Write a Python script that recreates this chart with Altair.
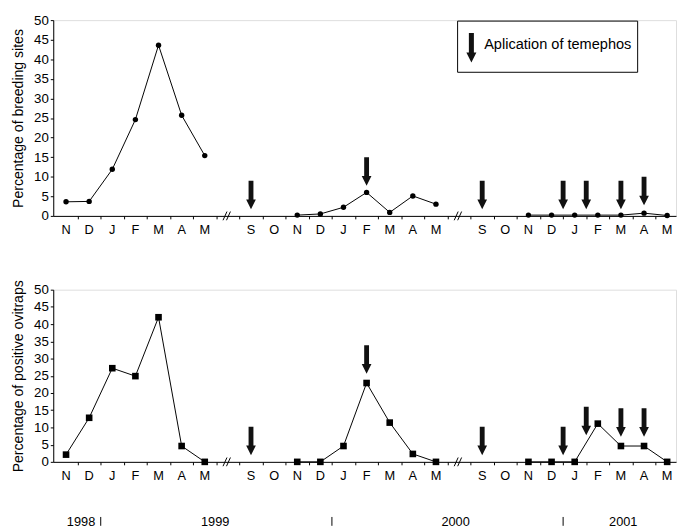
import altair as alt
import pandas as pd

FONT = "Liberation Sans"

# ---------------- data ----------------
month_labels = ["N", "D", "J", "F", "M", "A", "M",
                "S", "O", "N", "D", "J", "F", "M", "A", "M",
                "S", "O", "N", "D", "J", "F", "M", "A", "M"]
month_pos = [0, 1, 2, 3, 4, 5, 6,
             8, 9, 10, 11, 12, 13, 14, 15, 16,
             18, 19, 20, 21, 22, 23, 24, 25, 26]

series_pos = [0, 1, 2, 3, 4, 5, 6,
              10, 11, 12, 13, 14, 15, 16,
              20, 21, 22, 23, 24, 25, 26]
series_seg = [1] * 7 + [2] * 7 + [3] * 7

breeding_sites = [3.6, 3.7, 11.9, 24.6, 43.6, 25.7, 15.4,
                  0.2, 0.5, 2.2, 6.0, 0.9, 5.1, 3.0,
                  0.2, 0.2, 0.2, 0.2, 0.2, 0.7, 0.1]
positive_ovitraps = [2.1, 12.8, 27.2, 24.9, 42.0, 4.6, 0.0,
                     0.0, 0.0, 4.6, 22.9, 11.4, 2.3, 0.0,
                     0.0, 0.0, 0.0, 11.1, 4.6, 4.6, 0.0]

arrow_pos = [8, 13, 18, 21.5, 22.5, 24, 25]
breeding_arrow_tip = [1.7, 7.7, 1.7, 1.7, 1.7, 1.7, 2.7]
ovitrap_arrow_tip = [1.9, 25.6, 1.9, 1.9, 7.7, 7.3, 7.3]

break_pos = [7, 17]
year_labels = ["1998", "1999", "2000", "2001"]
year_pos = [0.65, 6.45, 16.85, 24.1]
year_sep_pos = [1.5, 11.5, 21.5]

legend_text = "Aplication of temephos"

# ---------------- layout ----------------
W = 633
H_TOP, H_BOT = 199, 175
ARROW = "M-0.17,-2L0.17,-2L0.17,-0.68L0.34,-0.68L0,0L-0.34,-0.68L-0.17,-0.68Z"

xscale = alt.Scale(domain=[-0.553, 26.383], nice=False, zero=False)
yscale = alt.Scale(domain=[0, 50], nice=False, zero=False)

xaxis = alt.Axis(values=[i + 0.5 for i in range(26)], labels=False, title=None,
                 tickSize=3, ticks=True, domainColor="black", tickColor="black",
                 grid=False)


def yaxis(title, h):
    return alt.Axis(values=list(range(0, 55, 5)), title=title, tickSize=3,
                    domainColor="black", tickColor="black", grid=False,
                    labelFontSize=13.5, labelColor="black", labelPadding=2,
                    titleFontSize=14.3, titleFontWeight="normal", titleColor="black",
                    titleX=-35, titleY=h / 2, titleAngle=270,
                    titleAlign="center", titleBaseline="middle")


def panel(values, tips, ytitle, shape, size, h, with_legend, with_years):
    df = pd.DataFrame({"x": series_pos, "y": values, "seg": series_seg})
    arr = pd.DataFrame({"x": arrow_pos, "y": tips})
    months = pd.DataFrame({"x": month_pos, "label": month_labels,
                           "k": list(range(len(month_pos)))})
    rows = []
    dy = 1.1 * 201 / h
    for b in break_pos:
        rows.append({"x": b - 0.21, "x2": b - 0.04, "y": -dy, "y2": dy})
        rows.append({"x": b - 0.06, "x2": b + 0.11, "y": -dy, "y2": dy})
    brk = pd.DataFrame(rows)

    X = alt.X("x:Q", scale=xscale, axis=xaxis)
    Y = alt.Y("y:Q", scale=yscale, axis=yaxis(ytitle, h))

    line = alt.Chart(df).mark_line(color="black", strokeWidth=1).encode(
        x=X, y=Y, detail="seg:N")
    pts = alt.Chart(df).mark_point(shape=shape, size=size, filled=True,
                                   color="black", opacity=1).encode(x=X, y=Y)
    arrows = alt.Chart(arr).mark_point(shape=ARROW, size=841, filled=True,
                                       color="#111111", opacity=1).encode(x=X, y=Y)
    breaks = alt.Chart(brk).mark_rule(color="black", strokeWidth=1).encode(
        x=X, x2="x2:Q", y=Y, y2="y2:Q")
    mtext = alt.Chart(months).mark_text(font=FONT, fontSize=13, color="black",
                                        baseline="middle", align="center").encode(
        x=X, y=alt.value(h + 14), text="label:N", detail="k:N")

    layers = [line, pts, arrows, breaks, mtext]

    if with_legend:
        one = pd.DataFrame({"t": [legend_text]})
        box = alt.Chart(one).mark_rect(fill="white", stroke="black",
                                       strokeWidth=1).encode(
            x=alt.value(411), x2=alt.value(594), y=alt.value(1), y2=alt.value(53))
        larrow = alt.Chart(one).mark_point(shape=ARROW, size=900, filled=True,
                                           color="#111111", opacity=1).encode(
            x=alt.value(425), y=alt.value(43))
        ltext = alt.Chart(one).mark_text(font=FONT, fontSize=14.8, color="black",
                                         align="left", baseline="middle").encode(
            x=alt.value(438), y=alt.value(25), text="t:N")
        layers += [box, larrow, ltext]

    if with_years:
        yrs = pd.DataFrame({"x": year_pos, "label": year_labels})
        seps = pd.DataFrame({"x": year_sep_pos})
        ytext = alt.Chart(yrs).mark_text(font=FONT, fontSize=13, color="black",
                                         baseline="middle", align="center").encode(
            x=X, y=alt.value(h + 61), text="label:N")
        ysep = alt.Chart(seps).mark_rule(color="black", strokeWidth=1).encode(
            x=X, y=alt.value(h + 56), y2=alt.value(h + 65))
        layers += [ytext, ysep]

    return alt.layer(*layers).properties(width=W, height=h)


top = panel(breeding_sites, breeding_arrow_tip, "Percentage of breeding sites",
            "circle", 30, H_TOP, True, False)
bottom = panel(positive_ovitraps, ovitrap_arrow_tip, "Percentage of positive ovitraps",
               "square", 45, H_BOT, False, True)

chart = alt.vconcat(top, bottom, spacing=75, bounds="flush").properties(
    padding={"left": 3, "top": 0, "right": 0, "bottom": 0},
).configure_view(stroke=None).configure_axis(
    labelFont=FONT, titleFont=FONT
).configure(background="white")

chart.save("out.html", embed_options={"renderer": "svg", "actions": False})
